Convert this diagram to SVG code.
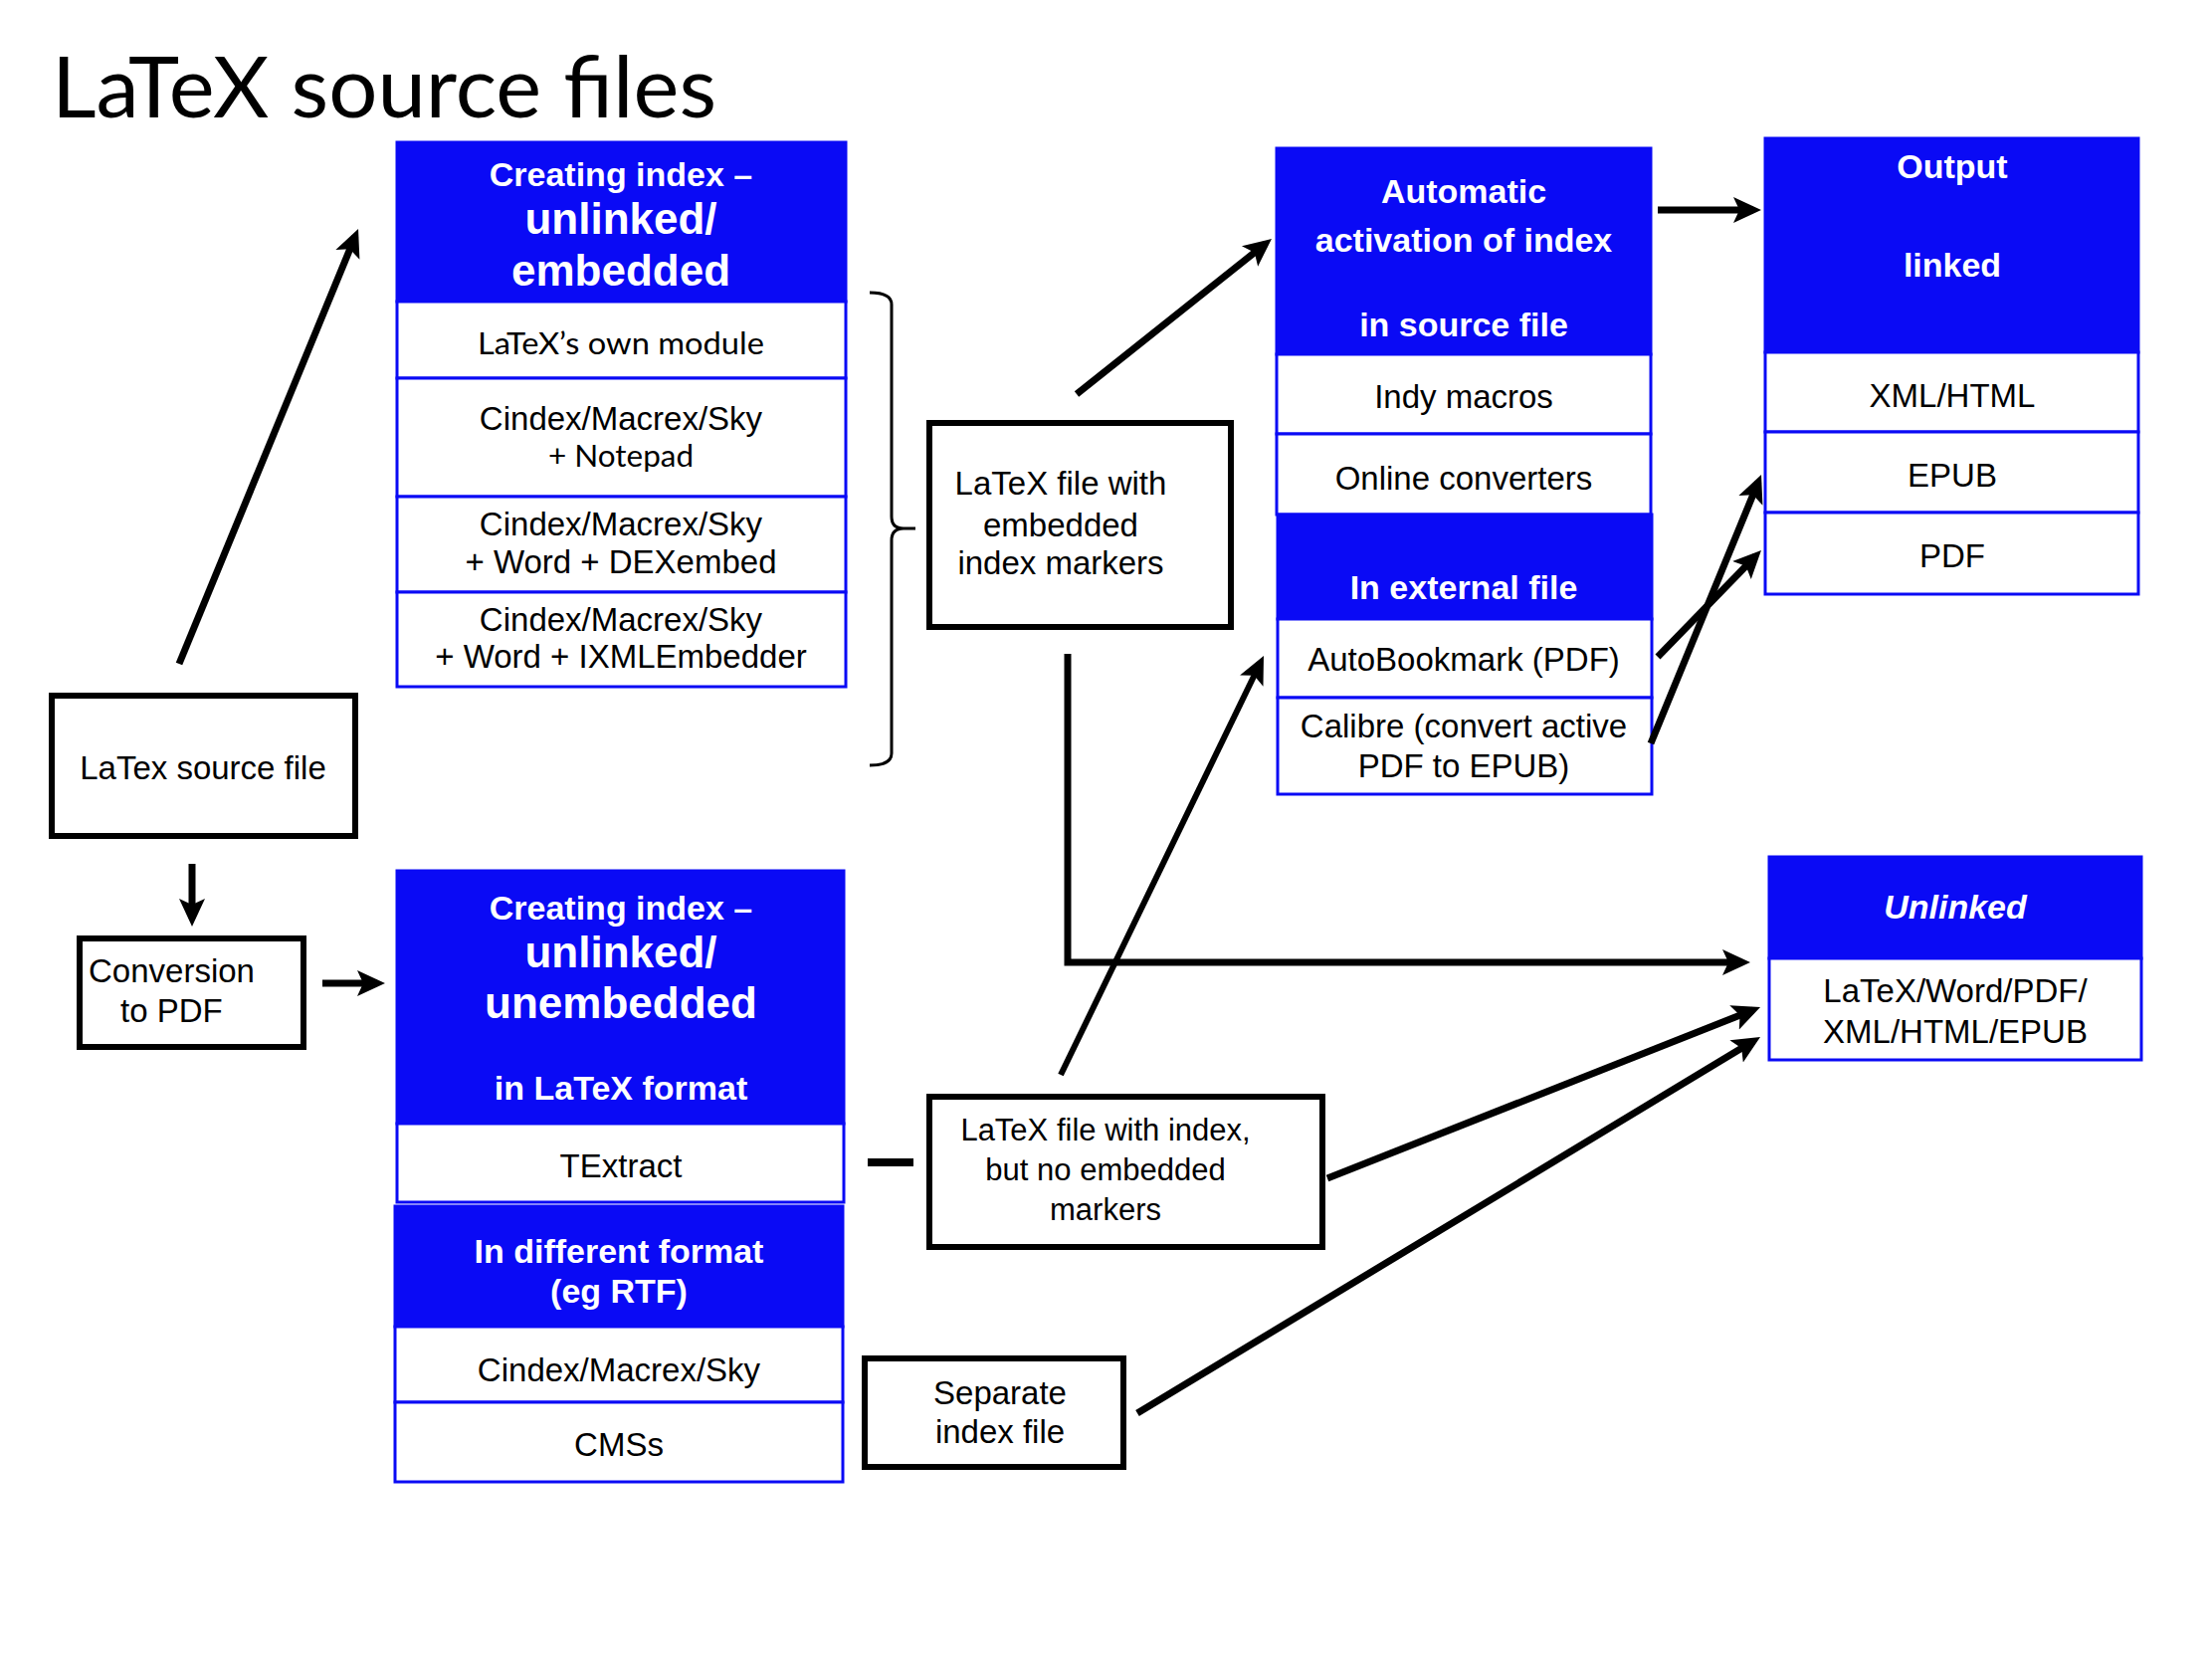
<svg xmlns="http://www.w3.org/2000/svg" width="2223" height="1667" viewBox="0 0 2223 1667">
<style>
.bx{fill:#fff;stroke:#000;stroke-width:6}
.hd{fill:#0a0af5;stroke:#0a0af5;stroke-width:3}
.row{fill:#fff;stroke:#0a0af5;stroke-width:3}
.t{font-family:"Liberation Sans",Arial,sans-serif;font-size:33px;fill:#000;text-anchor:middle}
.g{font-family:Lato,"Noto Sans",sans-serif;font-size:30px;fill:#000;text-anchor:middle}
.h{font-family:"Liberation Sans",Arial,sans-serif;font-size:34px;font-weight:bold;fill:#fff;text-anchor:middle}
.hb{font-family:"Liberation Sans",Arial,sans-serif;font-size:44px;font-weight:bold;fill:#fff;text-anchor:middle}
.ln{fill:none;stroke:#000;stroke-width:7}
.ar{fill:none;stroke:#000;stroke-width:7;marker-end:url(#ah)}
</style>
<defs>
<marker id="ah" markerUnits="userSpaceOnUse" markerWidth="30" markerHeight="28" refX="20" refY="13" orient="auto" viewBox="0 0 30 26">
<path d="M0,0 L28,13 L0,26 L6,13 z" fill="#000"/>
</marker>
</defs>
<rect width="2223" height="1667" fill="#fff"/>
<text id="title" x="52" y="118" font-family="Lato,'Noto Sans',sans-serif" font-size="85" textLength="668" lengthAdjust="spacingAndGlyphs">LaTeX source files</text>

<g id="n-latex-source">
<rect class="bx" x="52" y="699" width="305" height="141"/>
<text class="t" x="204" y="783">LaTex source file</text>
</g>
<g id="n-conversion">
<rect class="bx" x="80" y="943" width="225" height="109"/>
<text class="t" x="89" y="987" style="text-anchor:start">Conversion</text>
<text class="t" x="121" y="1027" style="text-anchor:start">to PDF</text>
</g>

<g id="n-embedded">
<rect class="hd" x="399" y="143" width="451" height="160"/>
<text class="h" x="624" y="187">Creating index –</text>
<text class="hb" x="624" y="235">unlinked/</text>
<text class="hb" x="624" y="287">embedded</text>
<rect class="row" x="399" y="303" width="451" height="77"/>
<text class="g" x="624" y="356" textLength="288" lengthAdjust="spacingAndGlyphs">LaTeX’s own module</text>
<rect class="row" x="399" y="380" width="451" height="119"/>
<text class="t" x="624" y="432">Cindex/Macrex/Sky</text>
<text class="g" x="624" y="469" textLength="146" lengthAdjust="spacingAndGlyphs">+ Notepad</text>
<rect class="row" x="399" y="499" width="451" height="96"/>
<text class="t" x="624" y="538">Cindex/Macrex/Sky</text>
<text class="t" x="624" y="576">+ Word + DEXembed</text>
<rect class="row" x="399" y="595" width="451" height="95"/>
<text class="t" x="624" y="634">Cindex/Macrex/Sky</text>
<text class="t" x="624" y="671">+ Word + IXMLEmbedder</text>
</g>

<g id="n-unembedded">
<rect class="hd" x="399" y="875" width="449" height="254"/>
<text class="h" x="624" y="924">Creating index –</text>
<text class="hb" x="624" y="972">unlinked/</text>
<text class="hb" x="624" y="1023">unembedded</text>
<text class="h" x="624" y="1105">in LaTeX format</text>
<rect class="row" x="399" y="1129" width="449" height="79"/>
<text class="t" x="624" y="1183">TExtract</text>
</g>

<g id="n-different">
<rect class="hd" x="397" y="1212" width="450" height="121"/>
<text class="h" x="622" y="1269">In different format</text>
<text class="h" x="622" y="1309">(eg RTF)</text>
<rect class="row" x="397" y="1333" width="450" height="76"/>
<text class="t" x="622" y="1388">Cindex/Macrex/Sky</text>
<rect class="row" x="397" y="1409" width="450" height="80"/>
<text class="t" x="622" y="1463">CMSs</text>
</g>

<g id="n-embedded-file">
<rect class="bx" x="934" y="425" width="303" height="205"/>
<text class="t" x="1066" y="497">LaTeX file with</text>
<text class="t" x="1066" y="539">embedded</text>
<text class="t" x="1066" y="577">index markers</text>
</g>

<g id="n-index-file">
<rect class="bx" x="934" y="1102" width="395" height="151"/>
<text class="t" x="1111" y="1146" style="font-size:31px">LaTeX file with index,</text>
<text class="t" x="1111" y="1186" style="font-size:31px">but no embedded</text>
<text class="t" x="1111" y="1226" style="font-size:31px">markers</text>
</g>

<g id="n-separate">
<rect class="bx" x="869" y="1365" width="260" height="109"/>
<text class="t" x="1005" y="1411">Separate</text>
<text class="t" x="1005" y="1450">index file</text>
</g>

<g id="n-automatic">
<rect class="hd" x="1283" y="149" width="376" height="207"/>
<text class="h" x="1471" y="204">Automatic</text>
<text class="h" x="1471" y="253">activation of index</text>
<text class="h" x="1471" y="338">in source file</text>
<rect class="row" x="1283" y="356" width="376" height="80"/>
<text class="t" x="1471" y="410">Indy macros</text>
<rect class="row" x="1283" y="436" width="376" height="81"/>
<text class="t" x="1471" y="492">Online converters</text>
<rect class="hd" x="1284" y="517" width="376" height="105"/>
<text class="h" x="1471" y="602">In external file</text>
<rect class="row" x="1284" y="622" width="376" height="79"/>
<text class="t" x="1471" y="674">AutoBookmark (PDF)</text>
<rect class="row" x="1284" y="701" width="376" height="97"/>
<text class="t" x="1471" y="741">Calibre (convert active</text>
<text class="t" x="1471" y="781">PDF to EPUB)</text>
</g>

<g id="n-output">
<rect class="hd" x="1774" y="139" width="375" height="215"/>
<text class="h" x="1962" y="179">Output</text>
<text class="h" x="1962" y="278">linked</text>
<rect class="row" x="1774" y="354" width="375" height="80"/>
<text class="t" x="1962" y="409">XML/HTML</text>
<rect class="row" x="1774" y="434" width="375" height="81"/>
<text class="t" x="1962" y="489">EPUB</text>
<rect class="row" x="1774" y="515" width="375" height="82"/>
<text class="t" x="1962" y="570">PDF</text>
</g>

<g id="n-unlinked">
<rect class="hd" x="1778" y="861" width="374" height="102"/>
<text class="h" x="1965" y="923" font-style="italic">Unlinked</text>
<rect class="row" x="1778" y="963" width="374" height="102"/>
<text class="t" x="1965" y="1007">LaTeX/Word/PDF/</text>
<text class="t" x="1965" y="1048">XML/HTML/EPUB</text>
</g>

<g id="connectors">
<path d="M874,294 Q896,294 896,306 V519 Q896,531 908,531 H920 M908,531 Q896,531 896,543 V757 Q896,769 874,769" fill="none" stroke="#000" stroke-width="3"/>
<line class="ar" x1="180" y1="667" x2="357" y2="237.4"/>
<line class="ar" x1="193" y1="868" x2="193" y2="923"/>
<line class="ar" x1="324" y1="988" x2="379" y2="988"/>
<line class="ar" x1="1082" y1="396" x2="1271.7" y2="245"/>
<line class="ar" x1="1666" y1="211" x2="1762" y2="211"/>
<line class="ar" x1="1666" y1="660" x2="1764.4" y2="558.7"/>
<line class="ar" x1="1659" y1="747" x2="1767" y2="484.4"/>
<path class="ar" d="M1073,657 V967 H1751"/>
<line class="ar" x1="1066" y1="1080" x2="1266.5" y2="666.2" style="stroke-width:6"/>
<line class="ar" x1="1334" y1="1184" x2="1761.6" y2="1015"/>
<line class="ar" x1="1143" y1="1420" x2="1762.2" y2="1046.1"/>
<line class="ln" x1="872" y1="1168" x2="918" y2="1168" style="stroke-width:8"/>
</g>
</svg>
